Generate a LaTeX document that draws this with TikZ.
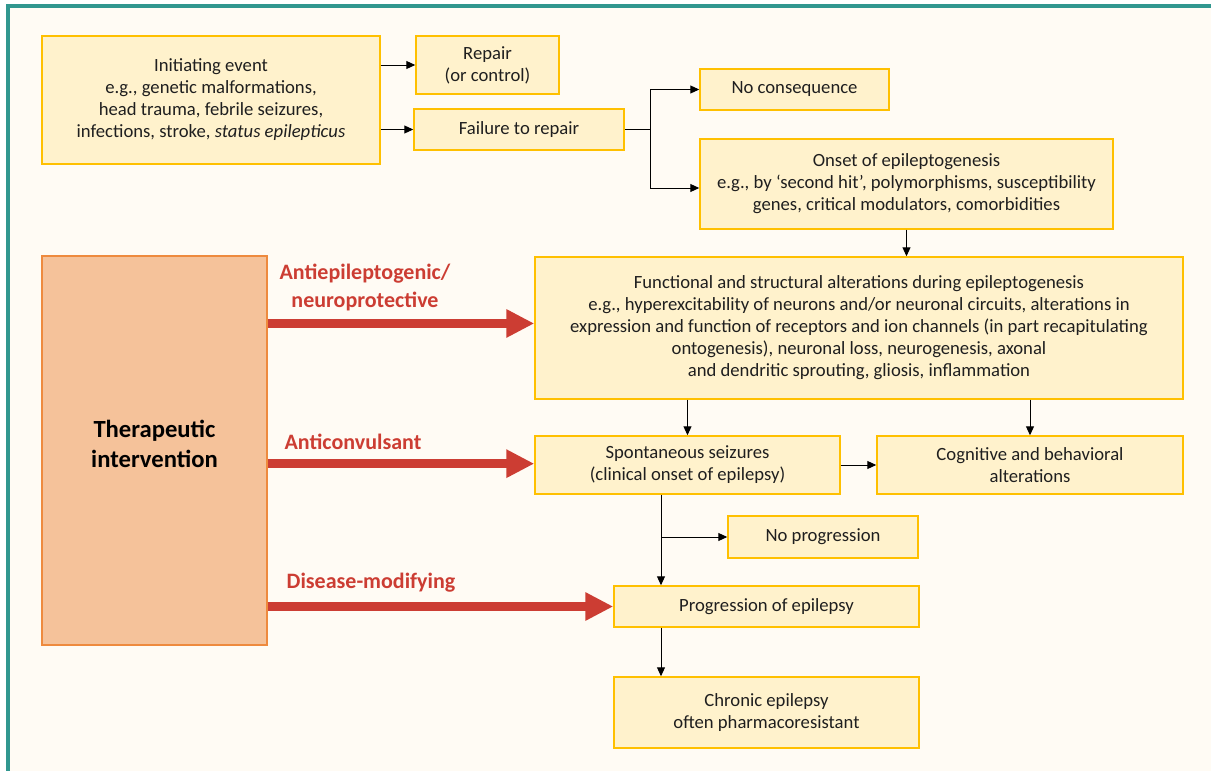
\documentclass[tikz,border=0pt]{standalone}
\usepackage{fontspec}
\setmainfont{Carlito}
\usetikzlibrary{arrows.meta}
\definecolor{bgc}{HTML}{FFFBF4}
\definecolor{framec}{HTML}{31978F}
\definecolor{boxfill}{HTML}{FFF2CC}
\definecolor{boxline}{HTML}{FFC000}
\definecolor{therfill}{HTML}{F5C29A}
\definecolor{therline}{HTML}{EE8A3E}
\definecolor{redc}{HTML}{CC3D33}
\definecolor{txtc}{HTML}{1F1F1F}
\tikzset{
  box/.style={draw=boxline, fill=boxfill, line width=1.1pt, align=center, inner sep=0pt,
    text=txtc, font=\fontsize{14}{16.5}\selectfont},
  wh/.style 2 args={minimum width=#1*0.75pt, minimum height=#2*0.75pt},
  therbox/.style={draw=therline, fill=therfill, line width=1.1pt, inner sep=0pt},
  thertext/.style={align=center, text=black, font=\fontsize{18.5}{23}\selectfont\bfseries},
  redlabel/.style={align=center, text=redc, font=\fontsize{16.5}{21}\selectfont\bfseries},
  arr/.style={draw=black, line width=0.75pt, -{Triangle[length=6.75pt,width=6pt]}},
  plain/.style={draw=black, line width=0.75pt},
  redarr/.style={draw=redc, line width=6.75pt, -{Triangle[length=21pt,width=20pt]}},
}
\begin{document}
\begin{tikzpicture}[x=0.75pt,y=-0.75pt]
\useasboundingbox (0,0) rectangle (1211,771);
\fill[white] (0,0) rectangle (1211,771);
\fill[bgc] (7.5,6.3) rectangle (1211,771);
\draw[framec, line width=3pt] (7.5,771) -- (7.5,6.3) -- (1211,6.3);

% boxes
\node[box, wh={338}{128}] (init) at (211,100) {Initiating event\\e.g., genetic malformations,\\head trauma, febrile seizures,\\infections, stroke, \textit{status epilepticus}};
\node[box, wh={143}{58}] (repair) at (487.5,65) {Repair\\(or control)};
\node[box, wh={210}{41}] (fail) at (519,129.5) {Failure to repair};
\node[box, wh={189}{41}] (nocons) at (794.5,89.5) {No consequence};
\node[box, wh={413}{90}] (onset) at (906.5,184) {Onset of epileptogenesis\\e.g., by ‘second hit’, polymorphisms, susceptibility\\genes, critical modulators, comorbidities};
\node[box, wh={648}{142}] (func) at (859,328) {Functional and structural alterations during epileptogenesis\\e.g., hyperexcitability of neurons and/or neuronal circuits, alterations in\\expression and function of receptors and ion channels (in part recapitulating\\ontogenesis), neuronal loss, neurogenesis, axonal\\and dendritic sprouting, gliosis, inflammation};
\node[box, wh={305}{58}] (spont) at (687.5,465) {Spontaneous seizures\\(clinical onset of epilepsy)};
\node[box, wh={306}{58}] (cog) at (1030,465) {Cognitive and behavioral\\alterations};
\node[box, wh={190}{42}] (noprog) at (823,537) {No progression};
\node[box, wh={305}{41}] (prog) at (766.5,606.5) {Progression of epilepsy};
\node[box, wh={305}{71}] (chron) at (766.5,712.5) {Chronic epilepsy\\often pharmacoresistant};
\node[therbox, wh={225}{389}] (ther) at (154.5,450.5) {};
\node[thertext] (thertxt) at (154.5,444) {Therapeutic\\intervention};

% red labels
\node[redlabel] (lab1) at (365,287) {Antiepileptogenic/\\neuroprotective};
\node[redlabel] (lab2) at (353,442) {Anticonvulsant};
\node[redlabel] (lab3) at (371,583) {Disease-modifying};

% black connectors
\draw[arr] (init.east |- repair.west) -- (repair.west);
\draw[arr] (init.east |- fail.west) -- (fail.west);
\coordinate (b1) at (650,129.5);
\draw[plain] (fail.east) -- (b1);
\draw[arr] (b1) |- (nocons.west);
\draw[arr] (b1) |- ([yshift=-3pt]onset.west);
\draw[arr] (onset.south) -- (onset.south |- func.north);
\draw[arr] (spont.north |- func.south) -- (spont.north);
\draw[arr] (cog.north |- func.south) -- (cog.north);
\draw[arr] (spont.east) -- (cog.west);
\coordinate (b2) at (661,537);
\draw[arr] (spont.south -| b2) -- (prog.north -| b2);
\draw[arr] (b2) -- (noprog.west);
\draw[arr] (prog.south -| b2) -- (chron.north -| b2);

% red arrows
\coordinate (r1) at ([yshift=3.4pt]func.west);
\coordinate (r2) at ([yshift=1pt]spont.west);
\draw[redarr] (ther.east |- r1) -- (r1);
\draw[redarr] (ther.east |- r2) -- (r2);
\draw[redarr] (ther.east |- prog.west) -- (prog.west);
\end{tikzpicture}
\end{document}
